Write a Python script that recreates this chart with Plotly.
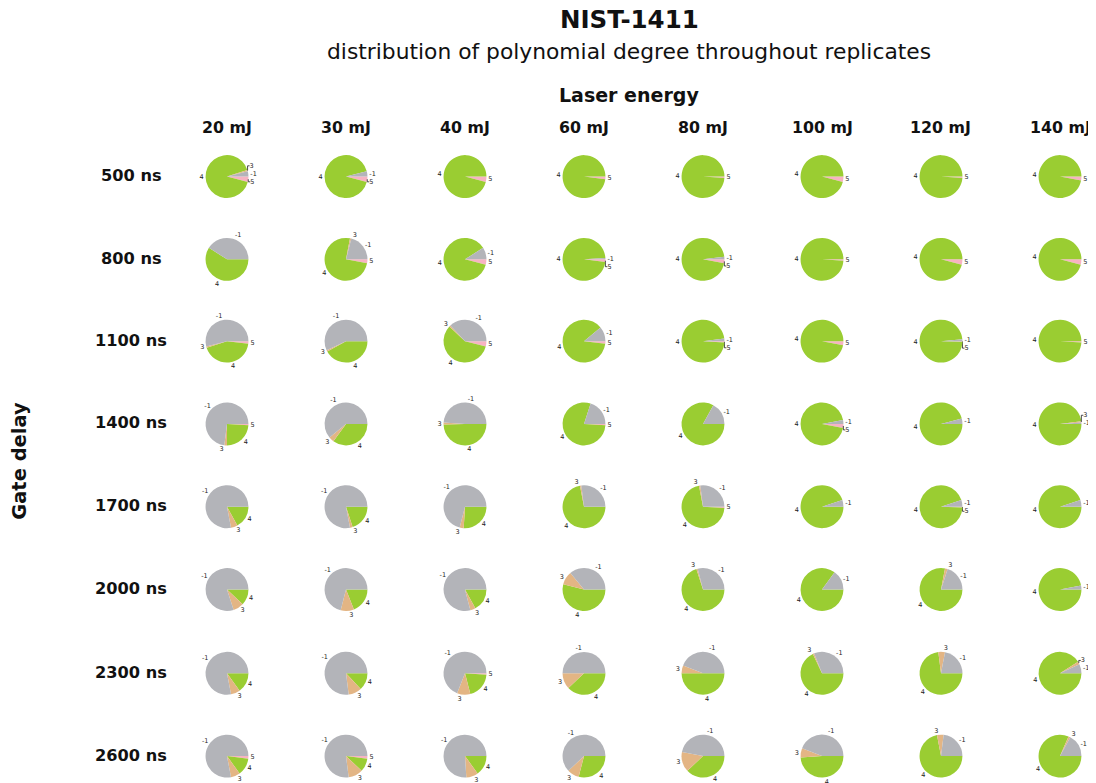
import plotly.graph_objects as go

energies = ["20 mJ", "30 mJ", "40 mJ", "60 mJ", "80 mJ", "100 mJ", "120 mJ", "140 mJ"]
delays = ["500 ns", "800 ns", "1100 ns", "1400 ns", "1700 ns", "2000 ns", "2300 ns", "2600 ns"]
degrees = ["-1", "3", "4", "5"]

# share (%) of replicates per polynomial degree; rows = gate delay, cols = laser energy
deg_m1 = [
    [4, 4, 0, 0, 0, 0, 0, 0],
    [41, 21, 9, 1, 2, 0, 0, 0],
    [54, 57, 37, 11, 2, 0, 1.5, 0],
    [73, 61, 49, 20, 17, 3, 4, 1],
    [78, 78, 71, 27, 27, 5, 5, 5],
    [80, 71, 79, 36, 29, 15, 20, 3],
    [78, 77, 69, 50, 44, 31, 22, 7],
    [78, 77, 76, 62, 47, 44, 23, 17],
]
deg_3 = [
    [1, 0, 0, 0, 0, 0, 0, 0],
    [0, 1, 0, 0, 0, 0, 0, 0],
    [1, 1, 1, 0, 0, 0, 0, 0],
    [2, 4, 1.5, 0, 0, 0, 0, 1],
    [5, 2, 3, 1, 1, 0, 0, 0],
    [8, 10, 4, 10, 1, 0, 2, 0],
    [7, 10, 10, 12, 6, 1, 5, 2],
    [7, 11, 9, 9, 15, 7, 5, 1.5],
]
deg_4 = [
    [91, 92, 96, 98, 99, 96, 99, 97],
    [59, 75, 87, 97, 95, 99, 96, 96],
    [43, 42, 58, 87, 97, 97, 98, 99],
    [24, 35, 49.5, 79, 83, 94, 96, 98],
    [17, 20, 26, 72, 71, 95, 94.5, 95],
    [12, 19, 17, 54, 70, 85, 78, 97],
    [15, 13, 20, 38, 50, 68, 73, 91],
    [13, 10, 15, 29, 38, 49, 72, 81.5],
]
deg_5 = [
    [4, 4, 4, 2, 1, 4, 1, 3],
    [0, 3, 4, 2, 3, 1, 4, 4],
    [2, 0, 4, 2, 1, 3, 0.5, 1],
    [1, 0, 0, 1, 0, 3, 0, 0],
    [0, 0, 0, 0, 1, 0, 0.5, 0],
    [0, 0, 0, 0, 0, 0, 0, 0],
    [0, 0, 1, 0, 0, 0, 0, 0],
    [2, 2, 0, 0, 0, 0, 0, 0],
]

colors = {"-1": "#b3b4b9", "3": "#e3b584", "4": "#9acd32", "5": "#f7b3c2"}

W, H = 1096, 783
OFF = 8  # default body margin of the html page
col_x = [227, 346, 465, 584, 703, 822, 941, 1060]
row_y = [177, 260, 342, 425, 508, 591, 675, 758]
R = 21.5


def px(x):
    return (x - OFF) / W


def py(y):
    return 1 - (y - OFF) / H


fig = go.Figure()
series = [deg_m1, deg_3, deg_4, deg_5]
for i in range(len(delays)):
    for j in range(len(energies)):
        labs, vals, cols = [], [], []
        # counter-clockwise from 3 o'clock (-1, 3, 4, 5) == clockwise from 3 o'clock reversed
        for d, s in reversed(list(zip(degrees, series))):
            v = s[i][j]
            if v > 0:
                labs.append(d)
                vals.append(v)
                cols.append(colors[d])
        cx, cy = col_x[j], row_y[i]
        fig.add_trace(go.Pie(
            labels=labs, values=vals, sort=False,
            direction="clockwise", rotation=90,
            marker=dict(colors=cols, line=dict(width=0)),
            textinfo="label", textposition="outside",
            outsidetextfont=dict(size=6.5, color="#222222", family="DejaVu Sans"),
            domain=dict(x=[px(cx - R), px(cx + R)], y=[py(cy + R), py(cy - R)]),
            showlegend=False, hoverinfo="label+percent",
        ))

BLK = "#111111"
FF = "DejaVu Sans"


def txt(text, x, y, size, angle=0):
    return dict(text=text, x=px(x), y=py(y), xref="paper", yref="paper",
                xanchor="center", yanchor="middle", showarrow=False, textangle=angle,
                font=dict(size=size, color=BLK, family=FF))


ann = [
    txt("<b>NIST-1411</b>", 629, 20, 24.5),
    txt("distribution of polynomial degree throughout replicates", 629, 52, 21.8),
    txt("<b>Laser energy</b>", 629, 95, 19),
    txt("<b>Gate delay</b>", 20, 462, 19.5, -90),
]
for j, e in enumerate(energies):
    ann.append(txt("<b>%s</b>" % e, col_x[j], 128, 15.8))
for i, d in enumerate(delays):
    ann.append(txt("<b>%s</b>" % d, 131, row_y[i] - 1, 16.2))

fig.update_layout(width=W, height=H, margin=dict(l=0, r=0, t=0, b=0),
                  paper_bgcolor="white", plot_bgcolor="white", annotations=ann)
fig.write_html("out.html", config={"displayModeBar": False})
